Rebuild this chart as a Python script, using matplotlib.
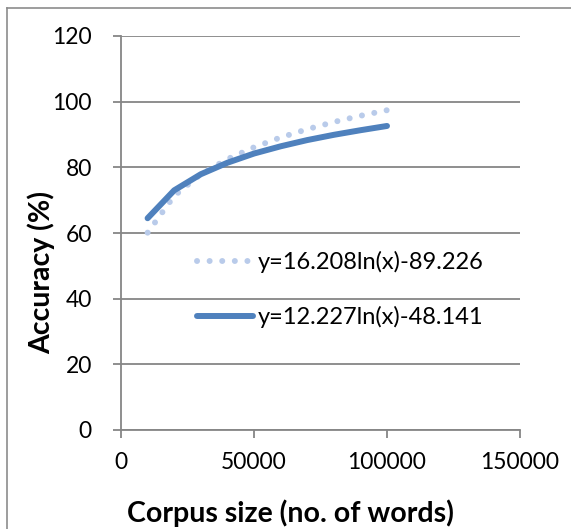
import matplotlib
matplotlib.use("Agg")
import matplotlib.pyplot as plt
from matplotlib.lines import Line2D

plt.rcParams['font.family'] = ['Lato', 'DejaVu Sans']

corpus_size = [10000, 20000, 30000, 40000, 50000, 60000, 70000, 80000, 90000, 100000]
acc_dotted = [60.1, 71.3, 77.9, 82.5, 86.1, 89.1, 91.6, 93.8, 95.7, 97.4]
acc_solid = [64.5, 73.0, 77.9, 81.4, 84.2, 86.4, 88.3, 89.9, 91.3, 92.6]
label_dotted = "y=16.208ln(x)-89.226"
label_solid = "y=12.227ln(x)-48.141"
x_ticks = [0, 50000, 100000, 150000]
y_ticks = [0, 20, 40, 60, 80, 100, 120]

W, H = 571, 529
fig = plt.figure(figsize=(W/100, H/100), dpi=100)
fig.patch.set_facecolor('white')

# outer chart border (left & top visible)
fig.add_artist(Line2D([7/W, 7/W], [0, 1-8/H], transform=fig.transFigure, color='#8c8c8c', lw=1.2))
fig.add_artist(Line2D([7/W, 1], [1-8/H, 1-8/H], transform=fig.transFigure, color='#8c8c8c', lw=1.2))

ax = fig.add_axes([121/W, 1-430/H, (520-121)/W, (430-36)/H])
grid_c = '#868686'
ax.set_xlim(0, 150000)
ax.set_ylim(0, 120)
ax.set_xticks(x_ticks)
ax.set_yticks(y_ticks)
ax.set_xticklabels([str(v) for v in x_ticks])
ax.set_yticklabels([str(v) for v in y_ticks])
ax.yaxis.grid(True, color=grid_c, lw=1.3)
ax.set_axisbelow(True)
for s in ['top', 'right']:
    ax.spines[s].set_visible(False)
for s in ['left', 'bottom']:
    ax.spines[s].set_color(grid_c)
    ax.spines[s].set_linewidth(1.3)
ax.tick_params(axis='both', colors=grid_c, width=1.3, length=6, labelsize=16.5, labelcolor='black')
ax.tick_params(axis='x', pad=10)
ax.tick_params(axis='y', pad=15)

l1, = ax.plot(corpus_size, acc_dotted, color='#b9cbea', lw=4.3, linestyle=(0, (0.01, 2.1)),
              dash_capstyle='round', solid_capstyle='round', label=label_dotted)
l2, = ax.plot(corpus_size, acc_solid, color='#4f81bd', lw=4.3, solid_capstyle='round', label=label_solid)

leg = ax.legend(handles=[l1, l2], loc='upper left', bbox_to_anchor=(0.19, 0.455), frameon=False,
                fontsize=17, handlelength=2.4, handletextpad=0.17, labelspacing=1.4,
                borderaxespad=0, borderpad=0)

ax.set_xlabel('Corpus size (no. of words)', fontsize=20.5, fontweight='bold', va='center')
ax.xaxis.set_label_coords((290 - 121) / 399, (430 - 513) / 394)
ax.set_ylabel('Accuracy (%)', fontsize=20.5, fontweight='bold', va='center')
ax.yaxis.set_label_coords((41 - 121) / 399, (430 - 272) / 394)

fig.savefig('out.png', dpi=100, facecolor='white')
